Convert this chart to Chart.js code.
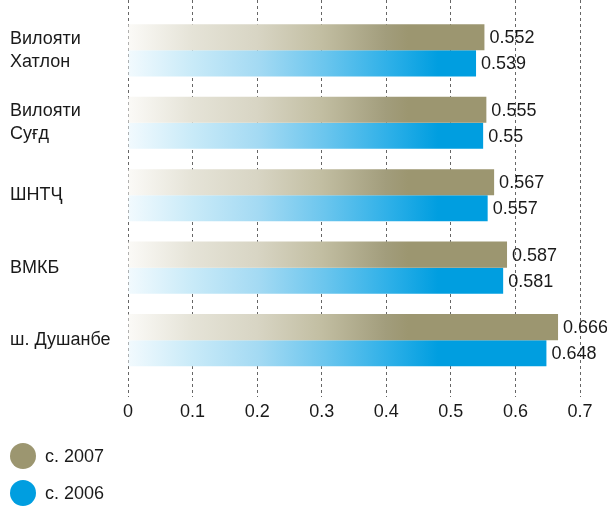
<!DOCTYPE html>
<html>
<head>
<meta charset="utf-8">
<script src="https://cdn.jsdelivr.net/npm/chart.js@4"></script>
<style>
  html, body { margin: 0; padding: 0; background: #fff; }
  #wrap { position: relative; width: 607px; height: 507px; }
  #legend { position: absolute; left: 10px; top: 443px; font: 18px "Liberation Sans", Arial, sans-serif; color: #1a1a1a; }
  .item { display: flex; align-items: center; height: 26px; margin-bottom: 11px; }
  .dot { width: 26px; height: 26px; border-radius: 50%; margin-right: 9px; }
</style>
</head>
<body>
<div id="wrap">
  <canvas id="chart" width="607" height="507"></canvas>
  <div id="legend"></div>
</div>
<script>
// categories (top to bottom)
const regions = [
    ['Вилояти', 'Хатлон'],
    ['Вилояти', 'Суғд'],
    'ШНТҶ',
    'ВМКБ',
    'ш. Душанбе'
]
const values2007 = [0.552, 0.555, 0.567, 0.587, 0.666]
const values2006 = [0.539, 0.55, 0.557, 0.581, 0.648]
const seriesNames = ['с. 2007', 'с. 2006']
const xTicks = [0, 0.1, 0.2, 0.3, 0.4, 0.5, 0.6, 0.7]

const FONT = '"Liberation Sans", Arial, sans-serif'

const olive = '#9c9670'
const blue = '#009ee0'

// gradient across the plot, white on the left to full colour
const makeGradient = (ctx, stops, span) => {
    const chart = ctx.chart
    const area = chart.chartArea
    if (!area) return stops[stops.length - 1][1]
    const g = chart.ctx.createLinearGradient(area.left, 0, area.left + span, 0)
    stops.forEach(s => g.addColorStop(s[0], s[1]))
    return g
}
const oliveStops = [[0, '#fbfaf7'], [0.23, '#e5e3d7'], [0.46, '#d8d5c4'], [0.69, '#c2bea2'], [0.92, '#a29d7c'], [1, olive]]
const blueStops = [[0, '#f2fafe'], [0.21, '#c8eaf8'], [0.42, '#a4daf3'], [0.63, '#6cc6ee'], [0.84, '#2eb0e8'], [1, blue]]

const toPoints = (vals) => vals.map((v, i) => ({ x: v, y: i }))

// value label at the end of each bar
const valueLabels = {
    id: 'valueLabels',
    afterDatasetsDraw(chart) {
        const ctx = chart.ctx
        ctx.save()
        ctx.font = '18px ' + FONT
        ctx.fillStyle = '#1a1a1a'
        ctx.textAlign = 'left'
        ctx.textBaseline = 'middle'
        chart.data.datasets.forEach((ds, di) => {
            chart.getDatasetMeta(di).data.forEach((bar, i) => {
                ctx.fillText(String(ds.data[i].x), bar.x + 5, bar.y + 1)
            })
        })
        ctx.restore()
    }
}

const chart = new Chart(document.getElementById('chart').getContext('2d'), {
    type: 'bar',
    data: {
        datasets: [{
            label: seriesNames[0],
            data: toPoints(values2007),
            backgroundColor: (ctx) => makeGradient(ctx, oliveStops, 280),
            legendColor: olive,
            borderWidth: 0
        }, {
            label: seriesNames[1],
            data: toPoints(values2006),
            backgroundColor: (ctx) => makeGradient(ctx, blueStops, 310),
            legendColor: blue,
            borderWidth: 0
        }]
    },
    options: {
        indexAxis: 'y',
        responsive: false,
        animation: false,
        categoryPercentage: 0.72,
        barPercentage: 1,
        layout: { padding: { left: 10, right: 27, top: 0, bottom: 80 } },
        plugins: {
            legend: { display: false },
            tooltip: { enabled: false }
        },
        scales: {
            x: {
                type: 'linear',
                min: 0,
                max: 0.7,
                z: 1,
                afterBuildTicks: (scale) => { scale.ticks = xTicks.map(v => ({ value: v })) },
                ticks: {
                    padding: 4,
                    color: '#1a1a1a',
                    font: { family: FONT, size: 18 },
                    callback: (v) => String(+v.toFixed(1))
                },
                grid: { color: '#666', lineWidth: 1, drawTicks: false },
                border: { display: false, dash: [3, 3] }
            },
            y: {
                type: 'linear',
                reverse: true,
                offset: false,
                min: -0.694,
                max: 4.79,
                afterBuildTicks: (scale) => { scale.ticks = regions.map((r, i) => ({ value: i })) },
                afterFit: (scale) => {
                    scale.width = 118
                    scale.paddingTop = 0
                    scale.paddingBottom = 0
                },
                ticks: {
                    crossAlign: 'far',
                    padding: 0,
                    color: '#1a1a1a',
                    font: { family: FONT, size: 18, lineHeight: 1.25 },
                    callback: (v) => regions[v]
                },
                grid: { display: false, offset: false },
                border: { display: false }
            }
        }
    },
    plugins: [valueLabels]
})

// legend below the chart, one item per line
const legendEl = document.getElementById('legend')
chart.data.datasets.forEach(ds => {
    const item = document.createElement('div')
    item.className = 'item'
    const dot = document.createElement('span')
    dot.className = 'dot'
    dot.style.background = ds.legendColor
    const txt = document.createElement('span')
    txt.textContent = ds.label
    item.appendChild(dot)
    item.appendChild(txt)
    legendEl.appendChild(item)
})
</script>
</body>
</html>
